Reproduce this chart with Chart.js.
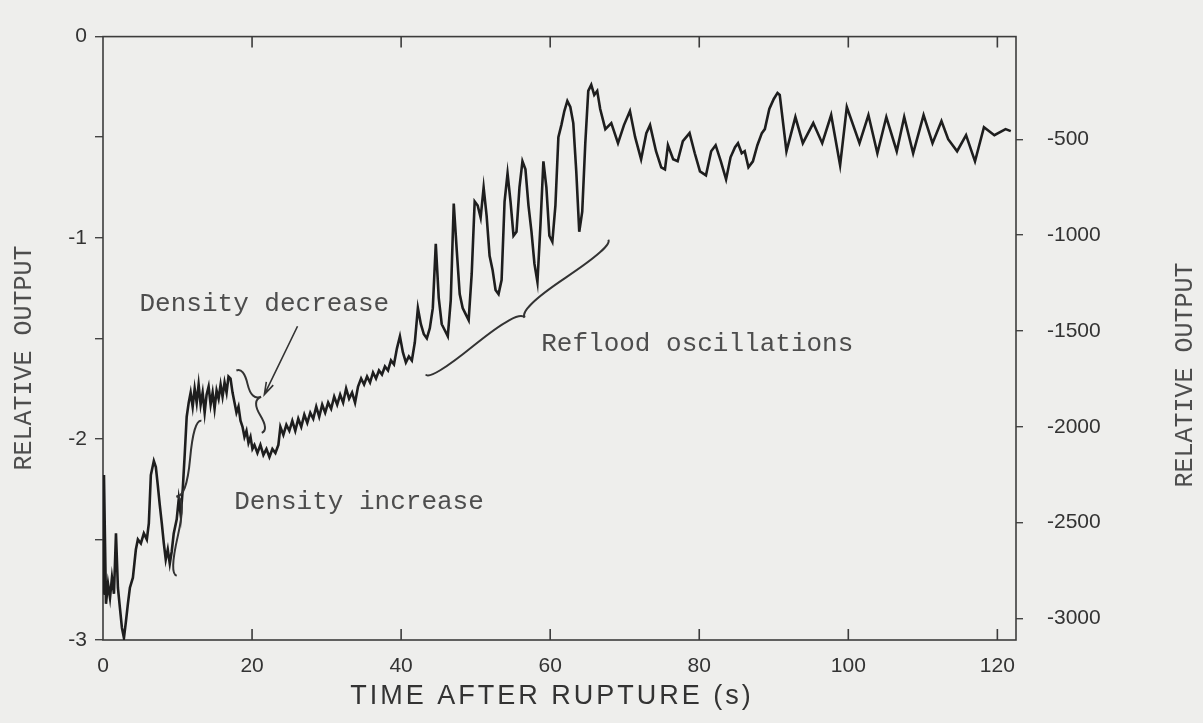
<!DOCTYPE html>
<html>
<head>
<meta charset="utf-8">
<script src="https://cdn.jsdelivr.net/npm/chart.js@4.4.1/dist/chart.umd.min.js"></script>
<style>
  html, body { margin: 0; background: #eeeeec; }
  #wrap { width: 1203px; height: 723px; }
</style>
</head>
<body>
<div id="wrap"><canvas id="c" width="1203" height="723"></canvas></div>
<script>
// time after rupture (s)
const TIME_S = [
  0.05, 0.13, 0.4, 0.67, 0.94, 1.2, 1.47, 1.74, 2.0, 2.27, 2.54, 2.81, 3.07, 3.34, 3.61, 4.01,
  4.41, 4.68, 5.08, 5.48, 5.88, 6.15, 6.42, 6.82, 7.09, 7.35, 7.62, 7.89, 8.16, 8.42, 8.69, 8.96,
  9.22, 9.49, 9.89, 10.16, 10.43, 10.7, 10.96, 11.23, 11.5,
  11.76, 12.03, 12.3, 12.57, 12.83, 13.1, 13.37, 13.64, 13.9, 14.17, 14.44, 14.71, 14.97, 15.24,
  15.51, 15.78, 16.04, 16.31, 16.58, 16.84, 17.11, 17.38, 17.65, 17.91, 18.18, 18.45, 18.72, 18.98,
  19.25, 19.52, 19.79, 20.05, 20.32, 20.72, 21.12, 21.52, 21.93, 22.33, 22.73, 23.13, 23.53, 23.8,
  24.2, 24.6, 25.0, 25.4, 25.8, 26.2, 26.6, 27.01, 27.41, 27.81, 28.21, 28.61, 29.01, 29.41, 29.81,
  30.21, 30.61, 31.02, 31.42, 31.82, 32.22, 32.62, 33.02, 33.42, 33.82, 34.22, 34.63, 35.03, 35.43,
  35.83, 36.23, 36.63, 37.03, 37.43, 37.83, 38.24, 38.64, 39.04, 39.44, 39.84, 40.24, 40.64, 41.04,
  41.44, 41.84, 42.25, 42.65, 43.05, 43.45, 43.85, 44.25, 44.65, 45.05, 45.45, 45.86, 46.26, 46.66,
  47.06, 47.46, 47.86, 48.26, 48.66, 49.06, 49.47, 49.87, 50.27, 50.67, 51.07, 51.47, 51.87, 52.27,
  52.67, 53.07, 53.48, 53.88, 54.28, 54.68, 55.08, 55.48, 55.88, 56.28, 56.68, 57.09, 57.49, 57.89,
  58.29, 58.69, 59.09, 59.49, 59.89, 60.29, 60.7, 61.1, 61.5, 61.9, 62.3, 62.7, 63.1, 63.5, 63.9,
  64.3, 64.71, 65.11, 65.51, 65.91, 66.31, 66.71,
  67.4, 68.2, 69.1, 69.9, 70.7, 71.4, 72.2, 72.9, 73.4, 74.2, 74.9, 75.4, 75.8, 76.5, 77.1, 77.8,
  78.7, 79.4, 80.1, 80.9, 81.6, 82.2, 82.9, 83.6, 84.2, 84.8, 85.2, 85.7, 86.1, 86.6, 87.2, 87.8,
  88.4, 88.8, 89.4, 90.0, 90.5,
  90.8, 91.7, 92.9, 93.9, 95.3, 96.5, 97.7, 98.9, 99.8, 101.5, 102.7, 103.9, 105.1, 106.5, 107.5,
  108.7, 110.1, 111.3, 112.5, 113.4, 114.6, 115.8, 117.0, 118.2, 119.6, 121.1, 121.8
];

// relative output on the left scale
const REL_OUTPUT = [
  -2.77, -2.18, -2.82, -2.72, -2.79, -2.69, -2.77, -2.47, -2.74, -2.84, -2.94, -2.99, -2.91, -2.82, -2.74, -2.69,
  -2.55, -2.50, -2.52, -2.47, -2.50, -2.42, -2.18, -2.11, -2.14, -2.23, -2.33, -2.42, -2.52, -2.60, -2.55, -2.62,
  -2.56, -2.47, -2.40, -2.30, -2.38, -2.25, -2.08, -1.89, -1.82,
  -1.77, -1.84, -1.75, -1.82, -1.73, -1.83, -1.77, -1.87, -1.78, -1.74, -1.83, -1.77, -1.85, -1.76,
  -1.80, -1.73, -1.79, -1.72, -1.77, -1.69, -1.70, -1.77, -1.82, -1.87, -1.84, -1.91, -1.94, -1.99,
  -1.96, -2.02, -1.99, -2.05, -2.03, -2.07, -2.03, -2.08, -2.05, -2.09, -2.05, -2.07, -2.03, -1.94,
  -1.98, -1.93, -1.96, -1.91, -1.96, -1.90, -1.94, -1.88, -1.92, -1.87, -1.90, -1.84, -1.89, -1.83, -1.87,
  -1.82, -1.85, -1.79, -1.83, -1.78, -1.82, -1.75, -1.80, -1.77, -1.82, -1.74, -1.70, -1.73, -1.69,
  -1.72, -1.67, -1.70, -1.66, -1.68, -1.64, -1.66, -1.61, -1.63, -1.55, -1.49, -1.57, -1.62, -1.59,
  -1.61, -1.52, -1.35, -1.43, -1.48, -1.50, -1.45, -1.35, -1.03, -1.30, -1.43, -1.46, -1.49, -1.31,
  -0.83, -1.06, -1.28, -1.35, -1.38, -1.41, -1.18, -0.82, -0.84, -0.90, -0.75, -0.89, -1.09, -1.16,
  -1.26, -1.28, -1.21, -0.82, -0.68, -0.82, -0.99, -0.97, -0.75, -0.62, -0.66, -0.84, -0.97, -1.13,
  -1.22, -0.94, -0.62, -0.75, -0.99, -1.02, -0.84, -0.50, -0.44, -0.37, -0.32, -0.35, -0.43, -0.67, -0.97,
  -0.87, -0.53, -0.27, -0.24, -0.29, -0.27, -0.36,
  -0.46, -0.43, -0.53, -0.44, -0.37, -0.50, -0.61, -0.48, -0.44, -0.57, -0.65, -0.66, -0.54, -0.61, -0.62, -0.52,
  -0.48, -0.58, -0.67, -0.69, -0.57, -0.54, -0.62, -0.71, -0.60, -0.55, -0.53, -0.58, -0.57, -0.65, -0.62, -0.54,
  -0.48, -0.46, -0.36, -0.31, -0.28,
  -0.29, -0.57, -0.40, -0.53, -0.43, -0.53, -0.39, -0.64, -0.35, -0.53, -0.39, -0.58, -0.40, -0.57, -0.40,
  -0.58, -0.39, -0.53, -0.42, -0.51, -0.57, -0.49, -0.62, -0.45, -0.49, -0.46, -0.47
];

const X_TICKS = [0, 20, 40, 60, 80, 100, 120];
const LEFT_TICKS = [0, -0.5, -1, -1.5, -2, -2.5, -3];
const RIGHT_TICKS = [-500, -1000, -1500, -2000, -2500, -3000];

// annotations, anchored in data units (time, left-scale output)
const NOTES = [
  { text: 'Density decrease', t: 4.9, v: -1.364 },
  { text: 'Density increase', t: 17.6, v: -2.35 },
  { text: 'Reflood oscillations', t: 58.8, v: -1.565 },
];
const BRACES = [
  { from: [17.9, -1.66], to: [21.3, -1.97], depth: -13 },
  { from: [13.2, -1.91], to: [9.9, -2.68], depth: 13 },
  { from: [43.3, -1.68], to: [67.8, -1.01], depth: 13 },
];
const ARROW = { from: [26.1, -1.44], to: [21.65, -1.78] };

const INK = '#1e1e1e';
const TXT = '#4d4d4d';
const TICK_FONT = { family: '"Liberation Sans", Arial, sans-serif', size: 21 };

function brace(ctx, x1, y1, x2, y2, w) {
  const len = Math.hypot(x2 - x1, y2 - y1);
  const ux = (x2 - x1) / len, uy = (y2 - y1) / len;
  const nx = -uy, ny = ux;
  const q = 0.6;
  const P = (f, k) => [x1 + ux * len * f + nx * w * k, y1 + uy * len * f + ny * w * k];
  const half = (f0, fq) => {
    const s = P(f0, 0), c = P(f0, q), e = P(fq, 1 - q), tip = P(0.5, 1);
    const c2 = [2 * e[0] - c[0], 2 * e[1] - c[1]];
    ctx.moveTo(s[0], s[1]);
    ctx.quadraticCurveTo(c[0], c[1], e[0], e[1]);
    ctx.quadraticCurveTo(c2[0], c2[1], tip[0], tip[1]);
  };
  ctx.beginPath();
  half(0, 0.25);
  half(1, 0.75);
  ctx.stroke();
}

const decor = {
  id: 'decor',
  beforeDatasetsDraw(chart) {
    const { ctx, chartArea: a, scales } = chart;
    ctx.save();
    ctx.strokeStyle = '#3c3c3c';
    ctx.lineWidth = 1.6;
    ctx.strokeRect(a.left, a.top, a.right - a.left, a.bottom - a.top);
    // inward ticks on the time axis, top and bottom
    ctx.beginPath();
    X_TICKS.forEach(v => {
      const x = scales.x.getPixelForValue(v);
      if (x < a.left + 2 || x > a.right - 2) return;
      ctx.moveTo(x, a.bottom); ctx.lineTo(x, a.bottom - 11);
      ctx.moveTo(x, a.top); ctx.lineTo(x, a.top + 11);
    });
    ctx.stroke();
    ctx.restore();
  },
  afterDraw(chart) {
    const { ctx, scales } = chart;
    const px = p => [scales.x.getPixelForValue(p[0]), scales.y.getPixelForValue(p[1])];
    ctx.save();
    ctx.fillStyle = TXT;
    ctx.font = '26px "Liberation Mono", "DejaVu Sans Mono", monospace';
    ctx.textBaseline = 'alphabetic';
    NOTES.forEach(n => {
      const [x, y] = px([n.t, n.v]);
      ctx.fillText(n.text, x, y);
    });

    ctx.strokeStyle = '#333';
    ctx.lineWidth = 2;
    BRACES.forEach(b => {
      const [x1, y1] = px(b.from), [x2, y2] = px(b.to);
      brace(ctx, x1, y1, x2, y2, b.depth);
    });

    const [ax, ay] = px(ARROW.from), [bx, by] = px(ARROW.to);
    const ang = Math.atan2(by - ay, bx - ax);
    ctx.lineWidth = 1.6;
    ctx.beginPath();
    ctx.moveTo(ax, ay); ctx.lineTo(bx, by);
    ctx.moveTo(bx - 13 * Math.cos(ang - 0.3), by - 13 * Math.sin(ang - 0.3));
    ctx.lineTo(bx, by);
    ctx.lineTo(bx - 13 * Math.cos(ang + 0.3), by - 13 * Math.sin(ang + 0.3));
    ctx.stroke();

    // axis titles
    ctx.fillStyle = TXT;
    ctx.textAlign = 'center';
    ctx.textBaseline = 'middle';
    ctx.font = '25px "Liberation Mono", "DejaVu Sans Mono", monospace';
    [[24, 358], [1185, 375]].forEach(([x, y]) => {
      ctx.save();
      ctx.translate(x, y);
      ctx.rotate(-Math.PI / 2);
      ctx.fillText('RELATIVE OUTPUT', 0, 0);
      ctx.restore();
    });
    ctx.fillStyle = '#333';
    ctx.font = '27px "Liberation Sans", Arial, sans-serif';
    ctx.letterSpacing = '3px';
    ctx.fillText('TIME AFTER RUPTURE (s)', 552, 697);
    ctx.restore();
  },
};

new Chart(document.getElementById('c'), {
  type: 'line',
  data: {
    labels: TIME_S,
    datasets: [{
      data: TIME_S.map((t, i) => ({ x: t, y: REL_OUTPUT[i] })),
      borderColor: INK,
      borderWidth: 2.6,
      pointRadius: 0,
      tension: 0,
      yAxisID: 'y',
    }],
  },
  options: {
    responsive: false,
    devicePixelRatio: 1,
    animation: false,
    layout: { padding: { top: 22, left: 0, right: 0, bottom: 0 } },
    plugins: { legend: { display: false }, tooltip: { enabled: false } },
    scales: {
      x: {
        type: 'linear',
        min: 0,
        max: 122.5,
        afterBuildTicks: s => { s.ticks = X_TICKS.map(v => ({ value: v })); },
        afterFit: s => { s.height = 83; },
        ticks: { color: '#333', font: TICK_FONT, padding: 14, maxRotation: 0 },
        grid: { drawOnChartArea: false, drawTicks: false },
        border: { display: false },
      },
      y: {
        position: 'left',
        min: -3,
        max: 0,
        afterBuildTicks: s => { s.ticks = LEFT_TICKS.map(v => ({ value: v })); },
        afterFit: s => { s.width = 103; },
        ticks: {
          color: '#333', font: TICK_FONT, padding: 8,
          callback: v => (Number.isInteger(v) ? String(v) : ''),
        },
        grid: { drawOnChartArea: false, tickLength: 8, color: '#444', lineWidth: 1.4 },
        border: { display: false },
      },
      y2: {
        position: 'right',
        min: -3112,
        max: 36,
        afterBuildTicks: s => { s.ticks = RIGHT_TICKS.map(v => ({ value: v })); },
        afterFit: s => { s.width = 187; },
        ticks: { color: '#333', font: TICK_FONT, padding: 24, callback: v => String(v) },
        grid: { drawOnChartArea: false, tickLength: 7, color: '#444', lineWidth: 1.4 },
        border: { display: false },
      },
    },
  },
  plugins: [decor],
});
</script>
</body>
</html>
